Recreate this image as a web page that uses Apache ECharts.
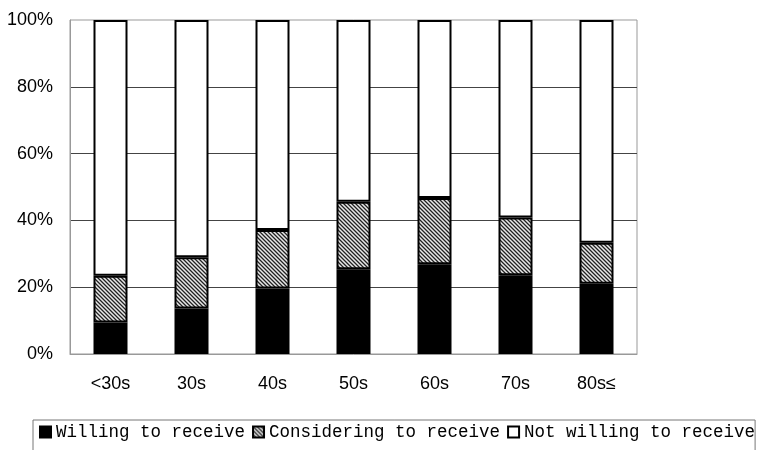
<!DOCTYPE html>
<html>
<head>
<meta charset="utf-8">
<script src="https://cdn.jsdelivr.net/npm/echarts@6/dist/echarts.min.js"></script>
<style>html,body{margin:0;padding:0;background:#fff;}#c{width:770px;height:450px;}</style>
</head>
<body>
<div id="c"></div>
<script>
const categories = ['<30s', '30s', '40s', '50s', '60s', '70s', '80s\u2264'];
const willing = [9.4, 13.6, 19.6, 25.4, 26.9, 23.6, 21.0];
const considering = [14.0, 15.4, 17.5, 20.2, 19.8, 17.3, 12.3];
const notWilling = [76.6, 71.0, 62.9, 54.4, 53.3, 59.1, 66.7];
const seriesNames = ['Willing to receive', 'Considering to receive', 'Not willing to receive'];

function hatch() {
  const c = document.createElement('canvas');
  c.width = 4; c.height = 4;
  const ctx = c.getContext('2d');
  ctx.fillStyle = '#909090';
  ctx.fillRect(0, 0, 4, 4);
  for (let i = 0; i < 4; i++) {
    ctx.fillStyle = '#222';
    ctx.fillRect(i, i, 1, 1);
    ctx.fillStyle = '#e8e8e8';
    ctx.fillRect((i + 2) % 4, i, 1, 1);
  }
  return c;
}
const hatchColor = { image: hatch(), repeat: 'repeat' };

const chart = echarts.init(document.getElementById('c'));
const axisFont = { fontFamily: "'Liberation Sans', Arial, sans-serif", fontSize: 18, color: '#000' };
chart.setOption({
  animation: false,
  grid: { left: 70, right: 133, top: 20, bottom: 96, show: true, borderColor: '#999', borderWidth: 1 },
  legend: {
    data: seriesNames,
    left: 33, top: 420, width: 780,
    orient: 'horizontal',
    padding: [3, 0, 30, 6],
    icon: 'rect',
    itemWidth: 11, itemHeight: 11, itemGap: 7,
    borderColor: '#777', borderWidth: 1,
    textStyle: { fontFamily: "'Liberation Mono', 'DejaVu Sans Mono', monospace", fontSize: 17.5, color: '#000' }
  },
  xAxis: {
    type: 'category',
    data: categories,
    axisLine: { lineStyle: { color: '#999', width: 1 } },
    axisTick: { inside: true, length: 5, lineStyle: { color: '#000' } },
    axisLabel: Object.assign({ margin: 21 }, axisFont)
  },
  yAxis: {
    type: 'value', min: 0, max: 100, interval: 20,
    axisLine: { show: true, lineStyle: { color: '#999' } },
    axisTick: { show: false },
    axisLabel: Object.assign({ margin: 17, formatter: '{value}%' }, axisFont),
    splitLine: { show: true, showMinLine: false, showMaxLine: false, lineStyle: { color: '#444', width: 1 } }
  },
  series: [
    { name: seriesNames[0], type: 'bar', stack: 's', barWidth: 34, data: willing,
      itemStyle: { color: '#000', borderColor: '#000', borderWidth: 2 } },
    { name: seriesNames[1], type: 'bar', stack: 's', barWidth: 34, data: considering,
      itemStyle: { color: hatchColor, borderColor: '#000', borderWidth: 2 } },
    { name: seriesNames[2], type: 'bar', stack: 's', barWidth: 34, data: notWilling,
      itemStyle: { color: '#fff', borderColor: '#000', borderWidth: 2 } }
  ]
});
</script>
</body>
</html>
